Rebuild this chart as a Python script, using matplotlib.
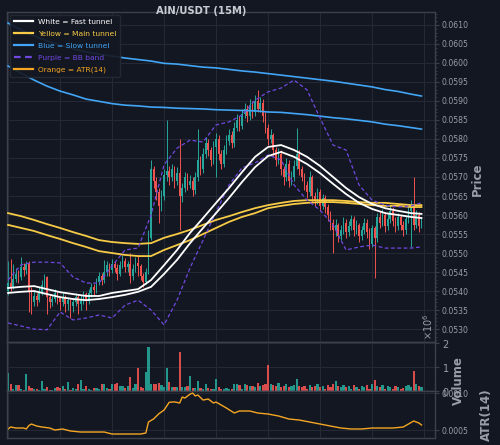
import numpy as np
import matplotlib
matplotlib.use("Agg")
import matplotlib.pyplot as plt
from matplotlib.lines import Line2D
from matplotlib.ticker import MultipleLocator, AutoMinorLocator, FormatStrFormatter, ScalarFormatter

# AIN/USDT 15m candles, prices in 1e-5 USDT
open0 = 5400
closes = [5420, 5410, 5432, 5445, 5438, 5462, 5455, 5470, 5400, 5372,
          5388, 5376, 5398, 5415, 5436, 5385, 5372, 5380, 5396, 5382,
          5370, 5384, 5366, 5376, 5360, 5372, 5385, 5366, 5378, 5392,
          5374, 5396, 5410, 5402, 5425, 5440, 5428, 5450, 5468, 5455,
          5472, 5460, 5445, 5468, 5480, 5462, 5470, 5440, 5458, 5475,
          5465, 5440, 5425, 5450, 5540, 5720, 5690, 5660, 5625, 5650,
          5705, 5715, 5700, 5720, 5690, 5710, 5650, 5670, 5700, 5680,
          5690, 5665, 5700, 5745, 5720, 5760, 5790, 5770, 5745, 5780,
          5800, 5760, 5735, 5770, 5795, 5810, 5790, 5830, 5850, 5835,
          5865, 5880, 5860, 5890, 5870, 5900, 5880, 5895, 5860, 5830,
          5800, 5810, 5770, 5745, 5760, 5720, 5700, 5735, 5690, 5700,
          5730, 5760, 5720, 5700, 5680, 5660, 5700, 5650, 5640, 5660,
          5625, 5645, 5620, 5600, 5580, 5560, 5575, 5545, 5560, 5580,
          5555, 5570, 5590, 5560, 5575, 5545, 5560, 5580, 5555, 5525,
          5565, 5540, 5595, 5580, 5600, 5570, 5590, 5610, 5585, 5570,
          5595, 5575, 5560, 5590, 5610, 5620, 5575, 5600, 5570, 5585]
highs = [5480, 5485, 5470, 5460, 5455, 5490, 5475, 5480, 5478, 5410,
         5400, 5395, 5410, 5430, 5445, 5440, 5392, 5390, 5405, 5400,
         5388, 5395, 5390, 5385, 5380, 5380, 5395, 5392, 5390, 5400,
         5398, 5405, 5420, 5418, 5435, 5450, 5448, 5482, 5478, 5475,
         5485, 5480, 5470, 5478, 5495, 5488, 5480, 5500, 5470, 5490,
         5495, 5470, 5448, 5460, 5560, 5745, 5730, 5700, 5670, 5665,
         5720, 5850, 5730, 5735, 5730, 5725, 5800, 5685, 5712, 5710,
         5705, 5700, 5712, 5825, 5755, 5775, 5805, 5800, 5780, 5795,
         5815, 5810, 5770, 5785, 5810, 5825, 5820, 5845, 5865, 5860,
         5880, 5895, 5890, 5905, 5900, 5915, 5930, 5910, 5905, 5870,
         5840, 5825, 5815, 5780, 5775, 5770, 5730, 5750, 5745, 5715,
         5745, 5830, 5770, 5730, 5710, 5690, 5715, 5705, 5660, 5672,
         5668, 5655, 5652, 5630, 5610, 5590, 5590, 5580, 5575, 5595,
         5590, 5585, 5600, 5598, 5588, 5580, 5572, 5592, 5590, 5565,
         5575, 5572, 5605, 5610, 5615, 5608, 5605, 5625, 5620, 5595,
         5605, 5600, 5585, 5600, 5625, 5640, 5700, 5612, 5608, 5595]
lows = [5390, 5400, 5405, 5425, 5420, 5430, 5440, 5445, 5345, 5340,
        5360, 5360, 5370, 5390, 5405, 5340, 5355, 5360, 5370, 5365,
        5350, 5360, 5345, 5350, 5330, 5345, 5360, 5340, 5350, 5365,
        5350, 5365, 5385, 5390, 5395, 5415, 5415, 5420, 5440, 5440,
        5448, 5450, 5430, 5440, 5460, 5450, 5450, 5420, 5430, 5450,
        5440, 5430, 5410, 5418, 5445, 5535, 5670, 5640, 5580, 5610,
        5640, 5690, 5680, 5690, 5670, 5680, 5560, 5635, 5660, 5665,
        5670, 5650, 5655, 5690, 5705, 5710, 5750, 5755, 5730, 5735,
        5700, 5745, 5720, 5725, 5760, 5785, 5775, 5780, 5820, 5820,
        5825, 5855, 5845, 5850, 5855, 5860, 5870, 5870, 5845, 5815,
        5785, 5790, 5755, 5730, 5735, 5705, 5680, 5690, 5675, 5680,
        5690, 5720, 5705, 5690, 5665, 5645, 5650, 5635, 5625, 5630,
        5610, 5615, 5605, 5585, 5560, 5500, 5545, 5530, 5535, 5550,
        5540, 5545, 5560, 5545, 5550, 5530, 5535, 5550, 5540, 5510,
        5515, 5435, 5530, 5565, 5570, 5555, 5560, 5580, 5570, 5555,
        5560, 5560, 5545, 5550, 5580, 5515, 5560, 5565, 5555, 5565]
# volume in thousands
volume_k = [760, 300, 90, 240, 240, 80, 60, 700, 200, 120,
            80, 100, 60, 400, 70, 160, 60, 60, 140, 180,
            110, 200, 90, 370, 40, 110, 100, 300, 450, 90,
            200, 80, 60, 140, 120, 90, 280, 280, 110, 90,
            300, 300, 350, 220, 200, 140, 200, 580, 120, 280,
            970, 160, 120, 780, 1830, 280, 300, 280, 330, 250,
            150, 970, 380, 170, 160, 170, 1620, 180, 170, 200,
            620, 140, 120, 420, 140, 90, 280, 120, 80, 100,
            500, 150, 100, 70, 120, 90, 100, 300, 310, 250,
            100, 300, 250, 220, 200, 150, 350, 200, 250, 300,
            1100, 300, 250, 200, 350, 150, 200, 300, 150, 200,
            250, 500, 200, 150, 200, 100, 250, 150, 200, 300,
            150, 200, 100, 250, 150, 300, 400, 200, 150, 250,
            150, 200, 100, 250, 150, 100, 200, 150, 250, 100,
            300, 450, 200, 150, 250, 100, 200, 150, 100, 200,
            150, 100, 120, 200, 250, 150, 830, 300, 200, 150]

# indicator lines, read every 5 candles
line_idx = [0, 5, 10, 15, 20, 25, 30, 35, 40, 45, 50, 55, 60, 65, 70, 75, 80,
            85, 90, 95, 100, 105, 110, 115, 120, 125, 130, 135, 140, 145, 150, 155, 159]
fast_hi = [5408, 5411, 5413, 5405, 5397, 5392, 5387, 5387, 5395, 5400, 5405,
           5429, 5468, 5508, 5553, 5592, 5632, 5671, 5713, 5753, 5779, 5784,
           5771, 5753, 5729, 5700, 5671, 5647, 5629, 5618, 5611, 5605, 5603]
fast_lo = [5395, 5398, 5400, 5392, 5384, 5379, 5376, 5379, 5384, 5390, 5398,
           5411, 5445, 5482, 5526, 5566, 5605, 5645, 5687, 5726, 5755, 5766,
           5753, 5734, 5710, 5682, 5655, 5632, 5616, 5605, 5600, 5595, 5592]
main_hi = [5605, 5597, 5587, 5576, 5566, 5555, 5545, 5534, 5529, 5526, 5524,
           5526, 5540, 5550, 5561, 5574, 5587, 5597, 5608, 5618, 5626, 5632,
           5637, 5639, 5639, 5639, 5637, 5634, 5632, 5632, 5629, 5626, 5626]
main_lo = [5574, 5566, 5558, 5547, 5537, 5526, 5516, 5505, 5500, 5495, 5492,
           5492, 5508, 5521, 5534, 5550, 5566, 5582, 5595, 5605, 5618, 5624,
           5629, 5632, 5634, 5634, 5632, 5629, 5626, 5624, 5624, 5621, 5621]
slow_hi = [6105, 6087, 6071, 6058, 6047, 6037, 6029, 6023, 6018, 6013, 6009,
           6005, 5999, 5997, 5993, 5989, 5987, 5983, 5979, 5976, 5972, 5968,
           5964, 5960, 5956, 5952, 5947, 5942, 5937, 5930, 5925, 5918, 5913]
slow_lo = [5992, 5973, 5955, 5939, 5926, 5916, 5905, 5899, 5893, 5889, 5887,
           5884, 5883, 5881, 5880, 5879, 5877, 5876, 5875, 5874, 5871, 5870,
           5867, 5864, 5860, 5856, 5853, 5849, 5845, 5839, 5835, 5830, 5826]
bb_up = [5429, 5469, 5476, 5476, 5474, 5437, 5421, 5421, 5466, 5508, 5513,
         5600, 5732, 5776, 5797, 5792, 5837, 5845, 5863, 5902, 5924, 5934,
         5955, 5929, 5855, 5784, 5771, 5679, 5639, 5626, 5621, 5624, 5632]
bb_dn = [5316, 5308, 5300, 5298, 5345, 5324, 5329, 5337, 5329, 5363, 5376,
         5350, 5311, 5376, 5461, 5534, 5608, 5679, 5724, 5737, 5758, 5745,
         5679, 5639, 5613, 5574, 5508, 5516, 5521, 5513, 5513, 5513, 5516]

# ATR(14) in 1e-6
atr_idx = [0, 1, 3, 6, 7, 8, 9, 11, 13, 16, 18, 21, 24, 28, 37, 40, 51, 53, 54,
           56, 58, 60, 62, 64, 66, 67, 68, 70, 71, 72, 73, 75, 77, 79, 80, 84,
           87, 89, 93, 96, 100, 104, 108, 112, 116, 120, 124, 128, 132, 136,
           140, 144, 148, 152, 154, 156, 158, 159]
atr_u = [514, 541, 527, 527, 514, 560, 581, 554, 541, 527, 500, 514, 487, 473,
         473, 446, 446, 460, 608, 650, 720, 770, 875, 880, 865, 946, 932, 985,
         1000, 960, 973, 905, 919, 865, 878, 797, 730, 757, 757, 730, 716, 690,
         649, 635, 608, 581, 554, 527, 514, 514, 527, 527, 527, 541, 581, 622,
         595, 568]

BG = '#131722'
GRID = '#252a36'
SPINE = '#3b404c'
TXT = '#9a9ea8'
TEAL = '#26a69a'
RED = '#ef5350'
YELLOW = '#f7cb46'
BLUE = '#42a5f5'
PURPLE = '#7048e0'
ORANGE = '#f5a623'

c = np.array(closes) * 1e-5
o = np.r_[open0, closes[:-1]] * 1e-5
h = np.array(highs) * 1e-5
l = np.array(lows) * 1e-5
x = np.arange(len(c))
up = c >= o
col = np.where(up, TEAL, RED)

fig = plt.figure(figsize=(5, 4.45), dpi=100, facecolor=BG)
ax = fig.add_axes([0.014, 0.2315, 0.856, 0.7415], facecolor=BG)
axv = fig.add_axes([0.014, 0.1213, 0.856, 0.1102], facecolor=BG, sharex=ax)
axa = fig.add_axes([0.014, 0.0157, 0.856, 0.1056], facecolor=BG, sharex=ax)

# candles
ax.vlines(x, l, h, colors=col, lw=0.7, zorder=2)
body = np.maximum(np.abs(c - o), 0.000012)
ax.bar(x, body, bottom=np.minimum(o, c), width=0.7, color=col, zorder=3, lw=0)

lx = np.array(line_idx)
ax.plot(lx, np.array(slow_hi) * 1e-5, color=BLUE, lw=1.2, zorder=4)
ax.plot(lx, np.array(slow_lo) * 1e-5, color=BLUE, lw=1.2, zorder=4)
ax.plot(lx, np.array(main_hi) * 1e-5, color=YELLOW, lw=1.3, zorder=4)
ax.plot(lx, np.array(main_lo) * 1e-5, color=YELLOW, lw=1.3, zorder=4)
ax.plot(lx, np.array(fast_hi) * 1e-5, color='white', lw=1.3, zorder=5)
ax.plot(lx, np.array(fast_lo) * 1e-5, color='white', lw=1.3, zorder=5)
ax.plot(lx, np.array(bb_up) * 1e-5, color=PURPLE, lw=0.9, ls=(0, (3, 2)), zorder=4)
ax.plot(lx, np.array(bb_dn) * 1e-5, color=PURPLE, lw=0.9, ls=(0, (3, 2)), zorder=4)

ax.set_xlim(-0.4, 164.2)
ax.set_ylim(0.05266, 0.06134)
ax.yaxis.set_major_locator(MultipleLocator(0.0005))
ax.yaxis.set_minor_locator(AutoMinorLocator(5))
ax.yaxis.set_major_formatter(FormatStrFormatter('%.4f'))

# volume
axv.bar(x, np.array(volume_k) * 1e3, width=0.85, color=col, lw=0, alpha=0.9)
axv.set_ylim(0, 2.04e6)
axv.yaxis.set_major_locator(MultipleLocator(1e6))
fmt = ScalarFormatter(useMathText=True)
fmt.set_powerlimits((0, 0))
axv.yaxis.set_major_formatter(fmt)

# ATR
axa.plot(np.array(atr_idx), np.array(atr_u) * 1e-6, color=ORANGE, lw=1.0)
axa.set_ylim(0.000392, 0.001027)
axa.yaxis.set_major_locator(MultipleLocator(0.0005))
axa.yaxis.set_major_formatter(FormatStrFormatter('%.4f'))

for a in (ax, axv, axa):
    a.yaxis.tick_right()
    a.tick_params(axis='y', which='both', colors=SPINE, labelcolor=TXT, labelsize=5.6, length=3, pad=2)
    a.tick_params(axis='y', which='minor', length=1.5)
    a.tick_params(axis='x', which='both', length=0, labelbottom=False)
    a.xaxis.set_major_locator(MultipleLocator(20))
    a.grid(True, color=GRID, lw=0.7)
    a.set_axisbelow(True)
    for s in a.spines.values():
        s.set_color(SPINE)
        s.set_linewidth(1.0)
axv.tick_params(axis='y', labelsize=7)

off = axv.yaxis.get_offset_text()
off.set_color(TXT)
off.set_fontsize(7)
off.set_rotation(90)

fig.text(0.402, 1 - 11 / 445, 'AIN/USDT (15M)', color='#c8cbd2', fontsize=7.2,
         fontweight='bold', ha='center', va='center')
fig.text(0.954, 1 - 179 / 445, 'Price', color=TXT, fontsize=8.5, fontweight='bold',
         rotation=90, ha='center', va='center')
fig.text(0.916, 1 - 381 / 445, 'Volume', color=TXT, fontsize=8.5, fontweight='bold',
         rotation=90, ha='center', va='center')
fig.text(0.972, 1 - 415 / 445, 'ATR(14)', color=TXT, fontsize=8.5, fontweight='bold',
         rotation=90, ha='center', va='center')

handles = [Line2D([], [], color='white', lw=1.6),
           Line2D([], [], color=YELLOW, lw=1.6),
           Line2D([], [], color=BLUE, lw=1.6),
           Line2D([], [], color=PURPLE, lw=1.6, ls=(0, (3, 2))),
           Line2D([], [], color=ORANGE, lw=1.6)]
labels = ['White = Fast tunnel', 'Yellow = Main tunnel', 'Blue = Slow tunnel',
          'Purple = BB band', 'Orange = ATR(14)']
leg = ax.legend(handles, labels, loc='upper left', bbox_to_anchor=(0.007, 0.991),
                borderaxespad=0, fontsize=5.4, facecolor=BG, edgecolor=GRID,
                framealpha=0.9, handlelength=2.6, handletextpad=0.6,
                labelspacing=0.75, borderpad=0.5)
for t, cc in zip(leg.get_texts(), ['white', YELLOW, BLUE, PURPLE, ORANGE]):
    t.set_color(cc)

fig.savefig('out.png', dpi=100, facecolor=BG)
